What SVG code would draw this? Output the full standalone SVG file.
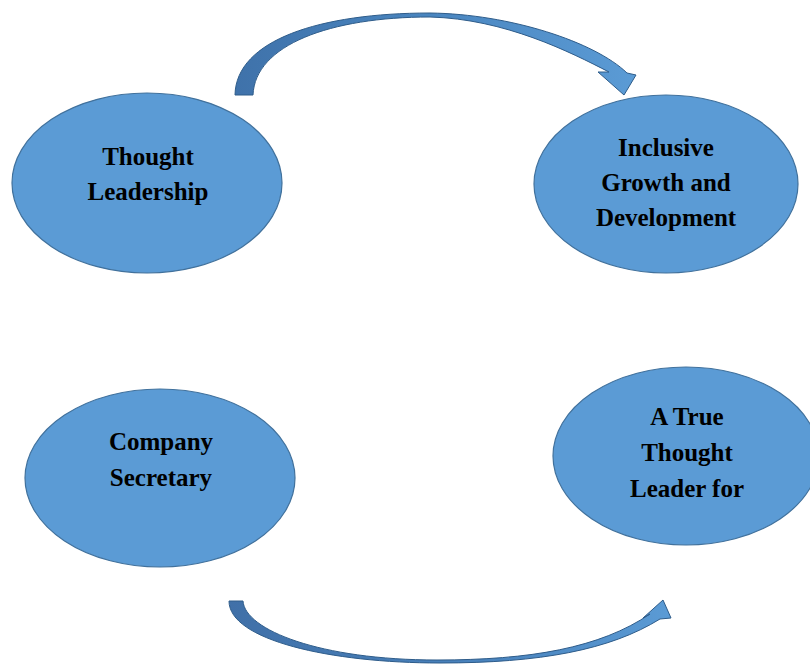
<svg xmlns="http://www.w3.org/2000/svg" width="810" height="665" viewBox="0 0 810 665">
<defs>
<style>
.node{fill:#5B9BD5;stroke:#41719C;stroke-width:1.2}
.lbl{font-family:"Liberation Serif","Times New Roman",serif;font-weight:bold;font-size:25px;fill:#000;text-anchor:middle}
.arrow{stroke:#2E5C8A;stroke-width:1}
</style>
<linearGradient id="gTop" x1="0" y1="0" x2="1" y2="0">
<stop offset="0" stop-color="#3F72AA"/>
<stop offset="0.5" stop-color="#4A86C0"/>
<stop offset="1" stop-color="#5B9BD5"/>
</linearGradient>
<linearGradient id="gBot" x1="0" y1="0" x2="1" y2="0">
<stop offset="0" stop-color="#4070A8"/>
<stop offset="0.6" stop-color="#4A84BE"/>
<stop offset="1" stop-color="#5B9BD5"/>
</linearGradient>
</defs>
<rect width="810" height="665" fill="#fff"/>
<g id="connectors">
<path class="arrow" fill="url(#gTop)" d="M235,95 C236,40 320,13 430,13 C510,14 595,42 627,73 L636,75 L624,95 L598,72 L609,72 C570,52 505,19 430,17 C330,17 255,45 253,95 Z"/>
<path class="arrow" fill="url(#gBot)" d="M229,601 C229,640 330,663 440,663 C540,663 610,650 660,619 L671,618 L663,600 L643,618 L650,614 C600,648 530,660 437,660 C320,660 245,630 243,601 Z"/>
</g>
<g id="node-thought-leadership">
<ellipse class="node" cx="147" cy="183" rx="135" ry="90"/>
<text class="lbl" x="148" y="165">Thought</text>
<text class="lbl" x="148" y="200">Leadership</text>
</g>
<g id="node-inclusive-growth">
<ellipse class="node" cx="666" cy="184" rx="132" ry="89"/>
<text class="lbl" x="666" y="156">Inclusive</text>
<text class="lbl" x="666" y="191">Growth and</text>
<text class="lbl" x="666" y="226">Development</text>
</g>
<g id="node-company-secretary">
<ellipse class="node" cx="160" cy="478" rx="135" ry="89"/>
<text class="lbl" x="161" y="450">Company</text>
<text class="lbl" x="161" y="486">Secretary</text>
</g>
<g id="node-true-thought-leader">
<ellipse class="node" cx="686" cy="456" rx="133" ry="89"/>
<text class="lbl" x="687" y="425">A True</text>
<text class="lbl" x="687" y="461">Thought</text>
<text class="lbl" x="687" y="497">Leader for</text>
</g>
</svg>
